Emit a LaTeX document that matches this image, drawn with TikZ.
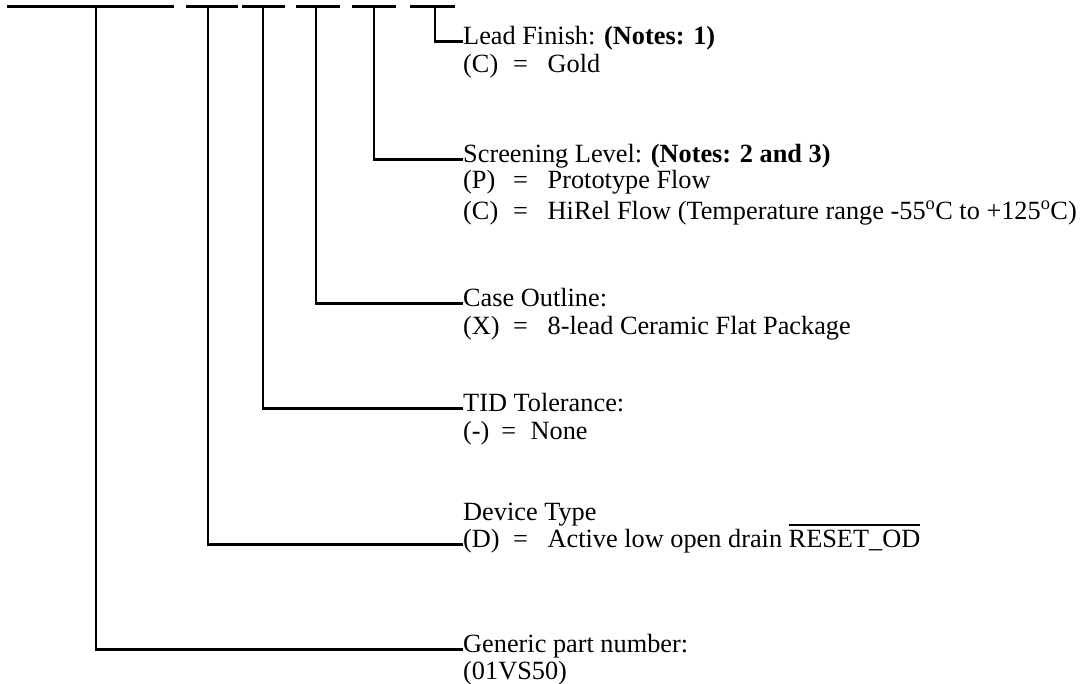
\documentclass[tikz,border=0pt]{standalone}
\usepackage{fontspec}
\setmainfont{Liberation Serif}
\usetikzlibrary{positioning}
\newcommand{\optline}[3][1.9em]{\makebox[#1][l]{#2}=\hspace{0.75em}#3}
\newcommand{\ovbar}[1]{\vbox{\hrule height 2pt\kern 4pt\hbox{#1}}}

\begin{document}
\begin{tikzpicture}[x=1pt, y=-1pt,
	bar/.style={line width=2.6pt},
	lbl/.style={anchor=base west, inner sep=0pt, text height=0.66em, text depth=0pt, font=\fontsize{26.3}{27}\selectfont}]
	%%%%% START %%%%%
	\useasboundingbox (0,0) rectangle (1086,683);
	
	% part number fields
	\draw[bar] (7,6.5) -- (174,6.5);
	\draw[bar] (186,6.5) -- (238,6.5);
	\draw[bar] (242,6.5) -- (285,6.5);
	\draw[bar] (296,6.5) -- (340,6.5);
	\draw[bar] (352,6.5) -- (396,6.5);
	\draw[bar] (410,6.5) -- (455,6.5);
	
	\coordinate (gen0) at (96,6.5);
	\coordinate (dev0) at (208,6.5);
	\coordinate (tid0) at (263,6.5);
	\coordinate (case0) at (316,6.5);
	\coordinate (scr0) at (374,6.5);
	\coordinate (lead0) at (435,7.8);
	
	% labels
	\node[lbl] (lead) at (463,44.6) {Lead Finish: \textbf{(Notes: 1)}};
	\node[lbl] (leadC) at (463,72) {\optline{(C)}{Gold}};
	
	\node[lbl] (scr) at (463,162.6) {Screening Level: \textbf{(Notes: 2 and 3)}};
	\node[lbl] (scrP) at (463,188) {\optline{(P)}{Prototype Flow}};
	\node[lbl] (scrC) at (463,219) {\optline{(C)}{HiRel Flow (Temperature range -55\textsuperscript{o}C to +125\textsuperscript{o}C)}};
	
	\node[lbl] (case) at (463,306.6) {Case Outline:};
	\node[lbl] (caseX) at (463,334) {\optline{(X)}{8-lead Ceramic Flat Package}};
	
	\node[lbl] (tid) at (463,411.6) {TID Tolerance:};
	\node[lbl] (tidN) at (463,439) {\makebox[1.45em][l]{(-)}=\hspace{0.55em}None};
	
	\node[lbl] (dev) at (463,520.6) {Device Type};
	\node[lbl] (devD) at (463,547.6) {\optline{(D)}{Active low open drain \ovbar{RESET\_OD}}};
	
	\node[lbl] (gen) at (463,652.6) {Generic part number:};
	\node[lbl] (genN) at (463,679) {(01VS50)};
	
	% leaders
	\draw[bar] (lead0) |- (lead.west);
	\draw[bar] (scr0) |- (scr.west);
	\draw[bar] (case0) |- (case.west);
	\draw[bar] (tid0) |- (tid.west);
	\draw[bar] (dev0) |- (devD.west);
	\draw[bar] (gen0) |- (gen.west);
	
	%%%%% END %%%%%
\end{tikzpicture}
\end{document}
